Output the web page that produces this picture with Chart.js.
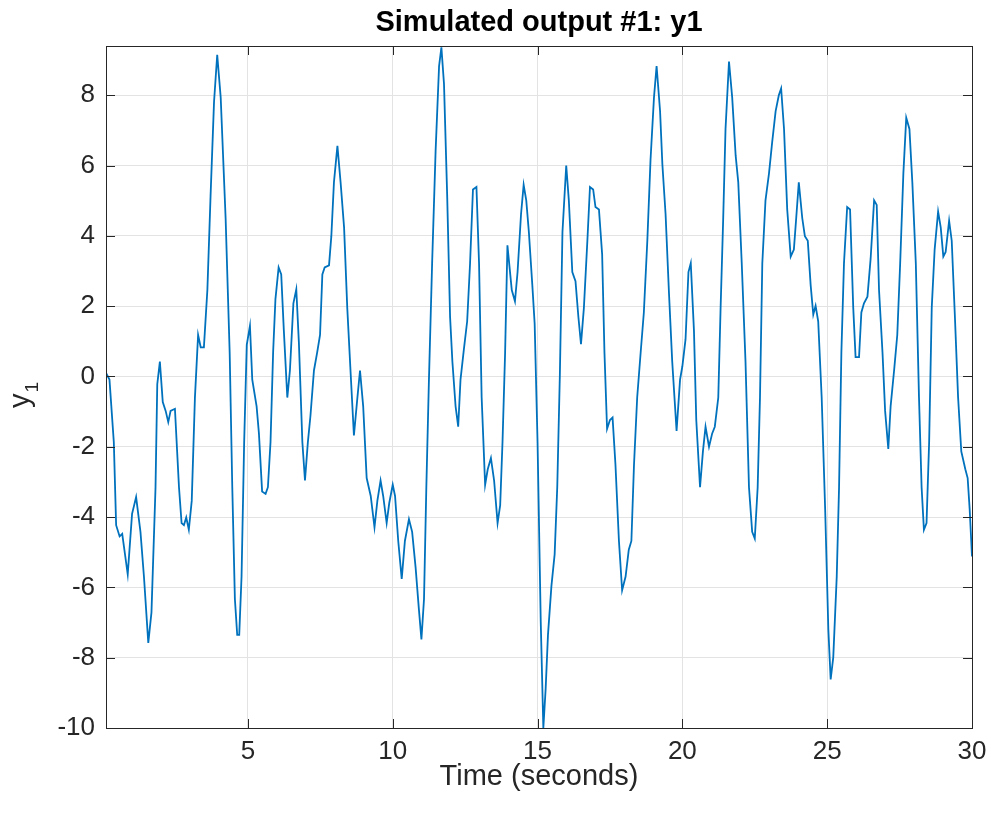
<!DOCTYPE html>
<html>
<head>
  <meta charset="UTF-8">
  <title>Simulated output</title>
  <script src="https://cdn.jsdelivr.net/npm/chart.js"></script>
  <style>
    body { margin: 0; background: #fff; }
    #wrap { width: 991px; height: 818px; }
  </style>
</head>
<body>
  <div id="wrap"><canvas id="myChart"></canvas></div>
  <script>
    // values
    var times = [0.10, 0.22, 0.37, 0.45, 0.57, 0.66, 0.85, 1.00, 1.14, 1.29, 1.41, 1.56, 1.67, 1.81, 1.87, 1.96,
      2.06, 2.16, 2.25, 2.33, 2.48, 2.62, 2.71, 2.79, 2.87, 2.96, 3.06, 3.17, 3.28, 3.37, 3.48, 3.60, 3.71, 3.83, 3.94,
      4.06, 4.23, 4.37, 4.46, 4.55, 4.63, 4.70, 4.78, 4.87, 4.96, 5.07, 5.15, 5.30, 5.38, 5.49, 5.61, 5.69, 5.78, 5.87,
      5.95, 6.06, 6.15, 6.24, 6.36, 6.45, 6.57, 6.67, 6.76, 6.88, 6.97, 7.07, 7.16, 7.28, 7.39, 7.49, 7.57, 7.65, 7.80,
      7.88, 7.97, 8.09, 8.20, 8.32, 8.43, 8.55, 8.66, 8.78, 8.87, 8.98, 9.10, 9.24, 9.37, 9.47, 9.58, 9.67, 9.79, 9.88,
      10.00, 10.08, 10.19, 10.31, 10.42, 10.56, 10.67, 10.79, 10.90, 10.99, 11.08, 11.16, 11.25, 11.36, 11.48, 11.60,
      11.68, 11.77, 11.88, 11.98, 12.06, 12.17, 12.26, 12.34, 12.46, 12.57, 12.67, 12.77, 12.89, 12.98, 13.07, 13.19,
      13.28, 13.39, 13.50, 13.62, 13.71, 13.79, 13.88, 13.96, 14.11, 14.22, 14.31, 14.43, 14.52, 14.61, 14.70, 14.82,
      14.90, 15.00, 15.11, 15.20, 15.28, 15.36, 15.48, 15.59, 15.68, 15.77, 15.86, 15.99, 16.08, 16.20, 16.31, 16.41,
      16.50, 16.60, 16.72, 16.81, 16.92, 17.00, 17.12, 17.23, 17.31, 17.40, 17.50, 17.59, 17.69, 17.81, 17.92, 18.04,
      18.15, 18.24, 18.33, 18.44, 18.56, 18.67, 18.79, 18.90, 19.02, 19.11, 19.23, 19.31, 19.42, 19.54, 19.65, 19.80,
      19.92, 20.00, 20.11, 20.21, 20.29, 20.40, 20.48, 20.61, 20.71, 20.80, 20.92, 21.03, 21.12, 21.24, 21.32, 21.41,
      21.49, 21.61, 21.72, 21.84, 21.93, 22.05, 22.18, 22.30, 22.41, 22.50, 22.60, 22.68, 22.76, 22.87, 22.99, 23.10,
      23.22, 23.33, 23.41, 23.51, 23.62, 23.74, 23.85, 23.93, 24.02, 24.14, 24.23, 24.33, 24.43, 24.52, 24.60, 24.69,
      24.81, 24.93, 25.04, 25.12, 25.21, 25.33, 25.41, 25.49, 25.58, 25.69, 25.79, 25.90, 25.98, 26.10, 26.18, 26.27,
      26.39, 26.50, 26.62, 26.71, 26.79, 26.91, 27.00, 27.11, 27.19, 27.31, 27.42, 27.52, 27.63, 27.73, 27.84, 27.94,
      28.06, 28.17, 28.26, 28.34, 28.43, 28.52, 28.61, 28.71, 28.83, 28.92, 29.01, 29.09, 29.21, 29.30, 29.41, 29.52,
      29.63, 29.77, 29.85, 29.92, 30.00];

    var y1 = [0.10, -0.09, -1.87, -4.23, -4.55, -4.48, -5.63, -3.91, -3.43, -4.42, -5.69, -7.58, -6.71, -3.15, -0.22, 0.42,
      -0.73, -0.98, -1.30, -0.98, -0.92, -3.15, -4.17, -4.23, -4.01, -4.36, -3.54, -0.61, 1.18, 0.83, 0.83, 2.46, 5.13, 7.81, 9.15,
      7.94, 4.50, 0.68, -3.15, -6.33, -7.35, -7.35, -5.69, -1.87, 0.90, 1.44, -0.09, -0.85, -1.62, -3.27, -3.34, -3.15, -1.87, 0.68,
      2.20, 3.10, 2.90, 1.31, -0.60, 0.17, 2.08, 2.48, 0.96, -1.87, -2.96, -1.87, -1.11, 0.17, 0.68, 1.18, 2.90, 3.10, 3.16,
      3.99, 5.52, 6.56, 5.52, 4.24, 1.95, 0.04, -1.68, -0.60, 0.17, -0.85, -2.89, -3.40, -4.29, -3.53, -2.96, -3.40, -4.17, -3.60,
      -3.08, -3.40, -4.68, -5.76, -4.68, -4.06, -4.42, -5.44, -6.59, -7.48, -6.33, -3.15, -0.09, 3.22, 6.41, 8.83,
      9.36, 8.32, 5.13, 1.69, 0.42, -0.85, -1.43, -0.09, 0.80, 1.57, 3.22, 5.32, 5.39, 3.22, -0.60, -3.08,
      -2.64, -2.32, -2.96, -4.17, -3.66, -1.87, 0.68, 3.73, 2.46, 2.14, 2.97, 4.62, 5.45, 5.01, 4.11, 2.59,
      1.50, -1.87, -6.97, -10.00, -8.88, -7.35, -5.95, -5.06, -3.15, 0.04, 4.11, 6.00, 5.01, 2.97, 2.71, 1.69,
      0.92, 1.95, 3.86, 5.39, 5.32, 4.82, 4.75, 3.48, 0.68, -1.49, -1.24, -1.17, -2.51, -4.68, -6.08, -5.69,
      -4.93, -4.68, -2.51, -0.60, 0.68, 1.82, 3.86, 6.15, 7.94, 8.83, 7.55, 6.03, 4.62, 2.33, 0.42, -1.55,
      -0.09, 0.29, 1.06, 2.97, 3.22, 1.31, -1.24, -3.15, -2.13, -1.43, -2.00, -1.62, -1.43, -0.60, 1.95, 4.50,
      7.04, 8.96, 7.94, 6.28, 5.52, 3.22, 0.42, -3.15, -4.42, -4.61, -3.15, -0.60, 3.22, 5.01, 5.77, 6.66,
      7.55, 8.00, 8.19, 7.04, 4.75, 3.41, 3.61, 4.50, 5.52, 4.50, 3.99, 3.86, 2.59, 1.76, 2.01, 1.57,
      -0.60, -3.78, -7.20, -8.62, -7.99, -5.69, -3.15, 0.68, 3.22, 4.82, 4.75, 1.95, 0.55, 0.55, 1.82, 2.08,
      2.27, 3.35, 5.01, 4.88, 2.46, 0.68, -0.98, -2.06, -0.85, 0.17, 1.18, 3.22, 5.77, 7.36, 7.04, 5.52,
      3.22, -0.60, -3.15, -4.36, -4.17, -1.87, 1.95, 3.61, 4.69, 4.24, 3.41, 3.54, 4.43, 3.86, 1.69, -0.60,
      -2.13, -2.64, -2.89, -3.78, -5.12];

    var xTicks = [5, 10, 15, 20, 25, 30];
    var yTicks = [-10, -8, -6, -4, -2, 0, 2, 4, 6, 8];
    var titleText = 'Simulated output #1: y1';

    var axisColor = '#262626';
    var fontFamily = '"Liberation Sans", Arial, Helvetica, sans-serif';

    var points = times.map(function (t, i) { return { x: t, y: y1[i] }; });

    // box round the axes, inward tick marks, title over the plot area, y label with subscript
    var boxPlugin = {
      id: 'box',
      afterDatasetsDraw: function (chart) {
        var c = chart.ctx, a = chart.chartArea;
        var xs = chart.scales.x, ys = chart.scales.y;
        var len = 9;
        c.save();
        c.strokeStyle = axisColor;
        c.lineWidth = 1;
        c.beginPath();
        xTicks.forEach(function (v) {
          var px = Math.round(xs.getPixelForValue(v)) + 0.5;
          c.moveTo(px, a.bottom); c.lineTo(px, a.bottom - len);
          c.moveTo(px, a.top); c.lineTo(px, a.top + len);
        });
        yTicks.forEach(function (v) {
          var py = Math.round(ys.getPixelForValue(v)) + 0.5;
          c.moveTo(a.left, py); c.lineTo(a.left + len, py);
          c.moveTo(a.right, py); c.lineTo(a.right - len, py);
        });
        c.stroke();
        c.strokeRect(Math.round(a.left) + 0.5, Math.round(a.top) + 0.5,
          Math.round(a.right - a.left), Math.round(a.bottom - a.top));
        c.restore();
      },
      afterDraw: function (chart) {
        var c = chart.ctx, a = chart.chartArea;
        c.save();
        c.fillStyle = '#000';
        c.textAlign = 'center';
        c.textBaseline = 'middle';
        c.font = 'bold 29px ' + fontFamily;
        c.fillText(titleText, (a.left + a.right) / 2, 23);

        c.fillStyle = axisColor;
        c.translate(29, 408);
        c.rotate(-Math.PI / 2);
        c.textBaseline = 'alphabetic';
        c.textAlign = 'left';
        c.font = '29px ' + fontFamily;
        c.fillText('y', 0, 0);
        var w = c.measureText('y').width;
        c.font = '19px ' + fontFamily;
        c.fillText('1', w + 1, 9);
        c.restore();
      }
    };

    var ctx = document.getElementById('myChart').getContext('2d');
    var chart = new Chart(ctx, {
      type: 'line',
      data: {
        datasets: [{
          label: 'y1',
          data: points,
          borderColor: '#0072BD',
          borderWidth: 1.8,
          pointRadius: 0,
          tension: 0,
          fill: false
        }]
      },
      options: {
        responsive: true,
        maintainAspectRatio: false,
        animation: false,
        layout: { padding: { left: 0, right: 19, top: 46, bottom: 0 } },
        plugins: {
          legend: { display: false },
          tooltip: { enabled: false },
          title: { display: false }
        },
        scales: {
          x: {
            type: 'linear',
            min: 0.1,
            max: 30,
            afterBuildTicks: function (s) { s.ticks = xTicks.map(function (v) { return { value: v }; }); },
            afterFit: function (s) { s.height = 90; s.paddingLeft = 0; s.paddingRight = 0; },
            grid: { color: '#e3e3e3', drawTicks: false },
            border: { display: false },
            ticks: {
              color: axisColor,
              padding: 8,
              maxRotation: 0,
              font: { family: fontFamily, size: 26 }
            },
            title: {
              display: true,
              text: 'Time (seconds)',
              color: axisColor,
              font: { family: fontFamily, size: 29 },
              padding: { top: 0, bottom: 24 }
            }
          },
          y: {
            min: -10,
            max: 9.4,
            afterBuildTicks: function (s) { s.ticks = yTicks.map(function (v) { return { value: v }; }); },
            afterFit: function (s) { s.width = 106; s.paddingTop = 0; s.paddingBottom = 0; },
            grid: { color: '#e3e3e3', drawTicks: false },
            border: { display: false },
            ticks: {
              color: axisColor,
              padding: 11,
              font: { family: fontFamily, size: 26 }
            }
          }
        }
      },
      plugins: [boxPlugin]
    });
  </script>
</body>
</html>
